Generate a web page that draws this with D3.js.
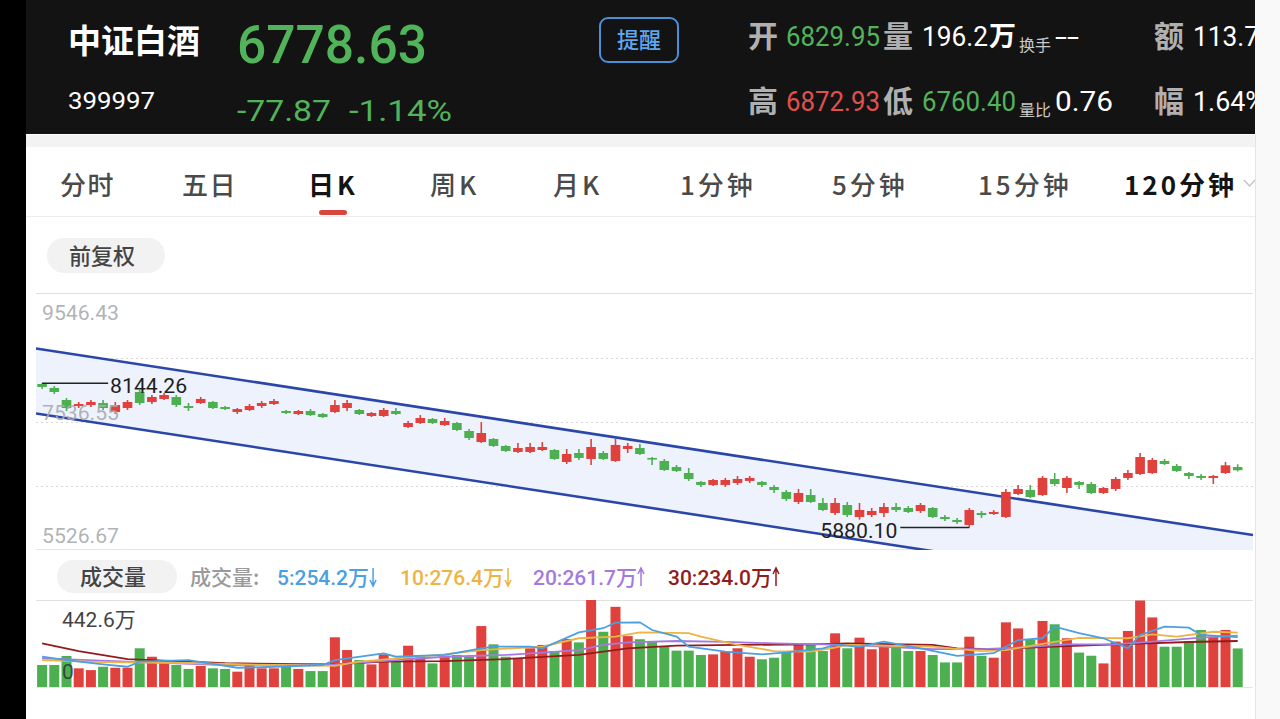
<!DOCTYPE html>
<html>
<head>
<meta charset="utf-8">
<script src="https://d3js.org/d3.v7.min.js"></script>
<style>
body { margin: 0; background: #fff; overflow: hidden; }
text { font-family: Roboto, "Noto Sans CJK SC", sans-serif; }
.cjk { font-family: "Noto Sans CJK SC", sans-serif; }
</style>
</head>
<body>
<div id="svg_goes_here"></div>
<script>
//Daily candles, oldest first
var opens = [8133,8071,7882,7788,7803,7835,7693,7756,8008,7851,7898,7929,7787,7835,7851,7772,7693,7725,7788,7819,
	7709,7662,7709,7662,7693,7756,7725,7631,7631,7709,7458,7521,7584,7489,7521,7395,7222,7270,7160,7066,
	7066,7097,7097,6909,7050,6956,7050,6925,7113,7128,6972,6925,6830,6736,6595,6548,6548,6579,6611,6595,
	6516,6438,6281,6390,6265,6108,6233,6045,6076,6108,6202,6186,6139,6186,6045,5998,5919,6108,6092,6045,
	6406,6469,6390,6642,6500,6595,6563,6422,6485,6658,6720,6736,6925,6846,6736,6689,6658,6736,6829.95];
var highs = [8144.26,8102,7913,7851,7882,7882,7851,7882,8039,7960,7992,7960,7835,7929,7866,7788,7756,7819,7866,7898,
	7725,7725,7740,7678,7882,7882,7740,7693,7756,7756,7552,7646,7599,7599,7536,7427,7536,7285,7176,7207,
	7207,7222,7113,7113,7113,7270,7081,7270,7207,7191,6988,6956,6862,6815,6611,6642,6658,6689,6689,6611,
	6548,6469,6485,6485,6343,6343,6281,6265,6186,6265,6265,6218,6265,6202,6076,6029,6186,6139,6155,6485,
	6548,6548,6689,6736,6689,6611,6595,6516,6673,6783,7050,6972,6956,6877,6752,6720,6705,6909,6872.93];
var lows = [8055,7976,7709,7756,7772,7725,7662,7725,7803,7819,7882,7772,7709,7819,7740,7725,7662,7709,7756,7803,
	7662,7646,7631,7600,7678,7709,7646,7615,7615,7646,7442,7505,7505,7474,7395,7254,7207,7144,7066,7050,
	7050,7081,6940,6877,6940,6862,6940,6909,7050,7019,6862,6768,6752,6611,6516,6532,6516,6548,6579,6516,
	6422,6296,6249,6265,6139,6076,6045,6003,6045,6045,6124,6108,6108,6029,5982,5935,5880.10,6029,6076,6029,
	6390,6343,6375,6532,6422,6485,6406,6406,6453,6626,6705,6720,6862,6752,6642,6626,6563,6720,6760.40];
var closes = [8086,8008,7756,7819,7851,7756,7803,7851,7835,7929,7960,7803,7756,7898,7756,7740,7740,7788,7835,7866,
	7678,7709,7646,7615,7803,7835,7662,7678,7725,7662,7521,7599,7521,7552,7411,7285,7364,7160,7081,7128,
	7144,7144,6956,7034,6972,7144,6956,7176,7160,7034,6956,6783,6768,6642,6548,6626,6626,6642,6658,6548,
	6469,6328,6422,6281,6155,6265,6076,6155,6139,6202,6155,6124,6233,6045,6013,5966,6155,6076,6124,6438,
	6485,6359,6658,6563,6658,6548,6422,6500,6642,6736,6987,6940,6877,6768,6689,6658,6689,6856.50,6778.63];
//Volume in 万
var volumes = [112,112,158,95,86,103,98,98,197,154,132,112,92,107,95,92,78,112,95,95,
	103,92,81,81,253,188,137,115,166,129,210,154,120,159,163,154,310,217,154,146,
	197,214,183,244,227,442.6,281,408,259,243,231,205,185,185,163,166,180,197,154,141,
	149,183,217,214,183,273,197,251,192,205,205,183,183,163,125,125,256,159,149,329,
	298,239,336,319,248,175,159,120,231,285,440,354,205,205,231,290,256,290,196.2];

//Volume moving averages, [candle index, value in 万]
var ma5_points = [[0,154],[2,137],[5,115],[7,103],[8,129],[12,137],[16,98],[19,103],[23,112],[24,137],[28,171],[29,154],
	[33,163],[36,197],[37,205],[40,205],[41,197],[44,278],[46,299],[47,327],[49,329],[50,290],[52,256],[53,205],
	[56,180],[59,166],[61,176],[64,197],[65,214],[67,205],[69,231],[72,197],[75,158],[78,172],[80,239],[82,248],
	[83,307],[85,274],[87,248],[89,197],[90,265],[92,307],[94,302],[95,265],[98,254.2]];
var ma10_points = [[0,137],[5,127],[12,122],[19,112],[24,107],[26,129],[33,166],[36,188],[41,205],[44,248],[47,256],
	[49,278],[53,274],[54,256],[57,214],[60,183],[63,180],[65,200],[66,214],[73,205],[77,183],[79,188],[83,229],
	[85,250],[89,248],[91,268],[93,256],[96,281],[98,276.4]];
var ma20_points = [[0,146],[7,129],[15,112],[24,115],[29,137],[33,154],[38,163],[44,188],[46,214],[48,227],[52,234],
	[56,230],[60,222],[66,214],[73,193],[77,193],[80,200],[84,217],[88,217],[91,231],[95,251],[98,261.7]];
var ma30_points = [[0,222],[3,183],[7,142],[15,121],[24,115],[28,129],[33,132],[38,142],[44,163],[48,197],[52,210],
	[57,214],[63,217],[66,222],[73,214],[75,197],[78,193],[83,205],[88,217],[94,229],[98,234.0]];

//Trend channel drawn on the chart, [candle index] and prices at both ends
var channel_idx = [-0.5, 99.25];
var channel_upper = [8690.7, 5762.2];
var channel_lower = [7670.0, 4736.7];

var price_labels = [9546.43, 7536.55, 5526.67];
var price_grid = [8541.49, 7536.55, 6531.61];
var volume_max = 442.6;

var tab_names = ['分时','五日','日K','周K','月K','1分钟','5分钟','15分钟','120分钟'];
var ma_names = ['5:254.2万','10:276.4万','20:261.7万','30:234.0万'];
var ma_up = [false, false, true, true];

var settings = {
	width: 1280,
	height: 719,
	plot_left: 36,
	plot_right: 1253,
	price_top: 294,
	price_bottom: 550,
	vol_top: 600,
	vol_bottom: 687,
	first_x: 42.1,
	step: 12.2,
	body_width: 9.6,
	red: '#e0413d',
	green: '#4caf50',
	ma_colours: ['#4aa0e2', '#edb445', '#a47ae0', '#921c1c']
}

var svg = d3.select('#svg_goes_here')
	.append('svg')
	.attr('width', settings.width)
	.attr('height', settings.height);

var n = closes.length;
var x = d3.scaleLinear().domain([0, n - 1]).range([settings.first_x, settings.first_x + settings.step * (n - 1)]);
var y = d3.scaleLinear().domain([price_labels[2], price_labels[0]]).range([settings.price_bottom, settings.price_top]);
var yv = d3.scaleLinear().domain([0, volume_max]).range([settings.vol_bottom, settings.vol_top]);

function candle_colour(i){
	return closes[i] >= opens[i] ? settings.red : settings.green;
}

//page background and frame
svg.append('rect').attr('width', 1280).attr('height', 719).attr('fill', '#fff');
svg.append('rect').attr('x', 26).attr('y', 135).attr('width', 1229).attr('height', 12).attr('fill', '#f3f3f3');
svg.append('line').attr('x1', 26).attr('x2', 1255).attr('y1', 216.5).attr('y2', 216.5).attr('stroke', '#ececec');

//header
var head = svg.append('g');
head.append('rect').attr('x', 26).attr('y', 0).attr('width', 1229).attr('height', 134).attr('fill', '#131313');
head.append('text').attr('class', 'cjk').attr('x', 68).attr('y', 53).attr('font-size', 33).attr('font-weight', 700)
	.attr('fill', '#fff').text('中证白酒');
head.append('text').attr('x', 237).attr('y', 63).attr('font-size', 54).attr('font-weight', 500)
	.attr('fill', '#52b45a').attr('textLength', 190).attr('lengthAdjust', 'spacingAndGlyphs').text('6778.63');
head.append('text').attr('x', 68).attr('y', 109).attr('font-size', 24)
	.attr('fill', '#fff').attr('textLength', 87).attr('lengthAdjust', 'spacingAndGlyphs').text('399997');
head.append('text').attr('x', 237).attr('y', 121).attr('font-size', 30)
	.attr('fill', '#52b45a').attr('textLength', 94).attr('lengthAdjust', 'spacingAndGlyphs').text('-77.87');
head.append('text').attr('x', 349).attr('y', 121).attr('font-size', 30)
	.attr('fill', '#52b45a').attr('textLength', 103).attr('lengthAdjust', 'spacingAndGlyphs').text('-1.14%');
head.append('rect').attr('x', 600).attr('y', 18).attr('width', 78).attr('height', 44).attr('rx', 8)
	.attr('fill', 'none').attr('stroke', '#4b8fd6').attr('stroke-width', 2);
head.append('text').attr('class', 'cjk').attr('x', 639).attr('y', 48).attr('text-anchor', 'middle')
	.attr('font-size', 22).attr('font-weight', 500).attr('fill', '#5ea6ef').text('提醒');

//quote fields: label, x, y
function quote_label(t, qx, qy){
	head.append('text').attr('class', 'cjk').attr('x', qx).attr('y', qy).attr('font-size', 30)
		.attr('font-weight', 700).attr('fill', '#b0b0b0').text(t);
}
function quote_value(t, qx, qy, colour, len){
	head.append('text').attr('x', qx).attr('y', qy).attr('font-size', 27).attr('fill', colour)
		.attr('textLength', len).attr('lengthAdjust', 'spacingAndGlyphs').text(t);
}
function quote_small(t, qx, qy){
	head.append('text').attr('class', 'cjk').attr('x', qx).attr('y', qy).attr('font-size', 16)
		.attr('fill', '#c8c8c8').text(t);
}
quote_label('开', 748, 47);
quote_value('6829.95', 786, 46, '#52b45a', 94);
quote_label('量', 883, 47);
quote_value('196.2', 922, 46, '#fff', 66);
head.append('text').attr('class', 'cjk').attr('x', 989).attr('y', 46).attr('font-size', 27)
	.attr('font-weight', 700).attr('fill', '#fff').text('万');
quote_small('换手', 1019, 51);
quote_value('--', 1055, 46, '#fff', 24);
quote_label('额', 1154, 47);
quote_value('113.7', 1193, 46, '#fff', 66);
quote_label('高', 748, 112);
quote_value('6872.93', 786, 111, '#e2504b', 94);
quote_label('低', 883, 112);
quote_value('6760.40', 922, 111, '#52b45a', 94);
quote_small('量比', 1019, 116);
quote_value('0.76', 1055, 111, '#fff', 58);
quote_label('幅', 1154, 112);
quote_value('1.64%', 1193, 111, '#fff', 72);

//period tabs
var tab_x = [60, 182, 308, 430, 553, 680, 832, 978, 1124];
tab_names.forEach(function(t, k){
	var active = (t == '日K' || t == '120分钟');
	svg.append('text').attr('class', 'cjk').attr('x', tab_x[k]).attr('y', 195)
		.attr('font-size', 26).attr('font-weight', active ? 700 : 500)
		.attr('letter-spacing', k < 2 ? 1.5 : 3)
		.attr('fill', active ? '#141414' : '#4a4a4a').text(t);
});
svg.append('rect').attr('x', 319).attr('y', 210).attr('width', 28).attr('height', 5).attr('rx', 2.5).attr('fill', '#d9463f');
svg.append('path').attr('d', 'M1244,180 L1249.5,186 L1255,180').attr('fill', 'none').attr('stroke', '#c4c4c4').attr('stroke-width', 1.5);

//adjustment pill
svg.append('rect').attr('x', 47).attr('y', 238).attr('width', 118).attr('height', 35).attr('rx', 17).attr('fill', '#f2f2f3');
svg.append('text').attr('class', 'cjk').attr('x', 69).attr('y', 264).attr('font-size', 22).attr('font-weight', 500)
	.attr('fill', '#444').text('前复权');

//price panel
var price = svg.append('g');
svg.append('clipPath').attr('id', 'price_clip').append('rect')
	.attr('x', settings.plot_left).attr('y', settings.price_top)
	.attr('width', settings.plot_right - settings.plot_left).attr('height', settings.price_bottom - settings.price_top);

price.append('line').attr('x1', settings.plot_left).attr('x2', settings.plot_right)
	.attr('y1', 293.5).attr('y2', 293.5).attr('stroke', '#dedede');
price.append('line').attr('x1', settings.plot_left).attr('x2', settings.plot_right)
	.attr('y1', 549.5).attr('y2', 549.5).attr('stroke', '#e6e6e6');
price.selectAll('.grid').data(price_grid).enter().append('line')
	.attr('class', 'grid')
	.attr('x1', settings.plot_left).attr('x2', settings.plot_right)
	.attr('y1', function(d){ return Math.round(y(d)) + 0.5; })
	.attr('y2', function(d){ return Math.round(y(d)) + 0.5; })
	.attr('stroke', '#d8d8d8').attr('stroke-dasharray', '2,3');

var channel = channel_idx.map(function(c, k){ return [c, channel_upper[k], channel_lower[k]]; });
var inner = price.append('g').attr('clip-path', 'url(#price_clip)');
inner.append('path').datum(channel)
	.attr('d', d3.area().x(function(d){ return x(d[0]); }).y0(function(d){ return y(d[2]); }).y1(function(d){ return y(d[1]); }))
	.attr('fill', '#edf2fc');
[1, 2].forEach(function(k){
	inner.append('path').datum(channel)
		.attr('d', d3.line().x(function(d){ return x(d[0]); }).y(function(d){ return y(d[k]); }))
		.attr('fill', 'none').attr('stroke', '#2a46a9').attr('stroke-width', 2.6);
});

//candles
var idx = d3.range(n);
inner.selectAll('.wick').data(idx).enter().append('line')
	.attr('class', 'wick')
	.attr('x1', function(i){ return x(i); }).attr('x2', function(i){ return x(i); })
	.attr('y1', function(i){ return y(highs[i]); }).attr('y2', function(i){ return y(lows[i]); })
	.attr('stroke', candle_colour).attr('stroke-width', 1.6);
inner.selectAll('.body').data(idx).enter().append('rect')
	.attr('class', 'body')
	.attr('x', function(i){ return x(i) - settings.body_width / 2; })
	.attr('y', function(i){ return y(Math.max(opens[i], closes[i])); })
	.attr('width', settings.body_width)
	.attr('height', function(i){ return Math.max(1.6, Math.abs(y(opens[i]) - y(closes[i]))); })
	.attr('fill', candle_colour);

//highest and lowest marks
var i_max = d3.maxIndex(highs), i_min = d3.minIndex(lows);
price.append('line').attr('x1', x(i_max)).attr('x2', x(i_max) + 66)
	.attr('y1', y(highs[i_max])).attr('y2', y(highs[i_max])).attr('stroke', '#222').attr('stroke-width', 1.5);
price.append('text').attr('x', x(i_max) + 68).attr('y', y(highs[i_max]) + 10).attr('font-size', 21)
	.attr('fill', '#1e1e1e').attr('textLength', 77).attr('lengthAdjust', 'spacingAndGlyphs').text(d3.format('.2f')(highs[i_max]));
price.append('line').attr('x1', x(i_min) - 69).attr('x2', x(i_min))
	.attr('y1', y(lows[i_min])).attr('y2', y(lows[i_min])).attr('stroke', '#222').attr('stroke-width', 1.5);
price.append('text').attr('x', x(i_min) - 149).attr('y', y(lows[i_min]) + 11).attr('font-size', 21)
	.attr('fill', '#1e1e1e').attr('textLength', 77).attr('lengthAdjust', 'spacingAndGlyphs').text(d3.format('.2f')(lows[i_min]));

//price axis labels inside the plot
var label_dy = [26, -2, -7];
price.selectAll('.plabel').data(price_labels).enter().append('text')
	.attr('class', 'plabel')
	.attr('x', 42).attr('y', function(d, k){ return y(d) + label_dy[k]; })
	.attr('font-size', 20).attr('fill', '#a9acb0').attr('fill-opacity', 0.92)
	.attr('textLength', 77).attr('lengthAdjust', 'spacingAndGlyphs')
	.text(function(d){ return d3.format('.2f')(d); });

//volume legend
svg.append('rect').attr('x', 57).attr('y', 560).attr('width', 120).attr('height', 33).attr('rx', 16).attr('fill', '#f2f2f3');
svg.append('text').attr('class', 'cjk').attr('x', 80).attr('y', 585).attr('font-size', 22).attr('font-weight', 500)
	.attr('fill', '#444').text('成交量');
svg.append('text').attr('class', 'cjk').attr('x', 190).attr('y', 585).attr('font-size', 21).attr('font-weight', 500)
	.attr('fill', '#9a9a9a').text('成交量:');
var legend_x = [277, 400, 533, 668];
ma_names.forEach(function(t, k){
	var node = svg.append('text').attr('x', legend_x[k]).attr('y', 585).attr('font-size', 21).attr('font-weight', 500)
		.attr('fill', settings.ma_colours[k]).text(t).node();
	var ax = legend_x[k] + node.getComputedTextLength() + 4;
	var head_y = ma_up[k] ? 568 : 586;
	var dir = ma_up[k] ? 1 : -1;
	svg.append('path')
		.attr('d', 'M' + ax + ',568 L' + ax + ',586 M' + (ax - 3) + ',' + (head_y + dir * 6) + ' L' + ax + ',' + head_y + ' L' + (ax + 3) + ',' + (head_y + dir * 6))
		.attr('fill', 'none').attr('stroke', settings.ma_colours[k]).attr('stroke-width', 1.5);
});

//volume panel
var vol = svg.append('g');
vol.append('line').attr('x1', settings.plot_left).attr('x2', settings.plot_right)
	.attr('y1', 600.5).attr('y2', 600.5).attr('stroke', '#e0e0e0');
vol.append('line').attr('x1', settings.plot_left).attr('x2', settings.plot_right)
	.attr('y1', 687.5).attr('y2', 687.5).attr('stroke', '#e6e6e6');
vol.selectAll('.vbar').data(idx).enter().append('rect')
	.attr('class', 'vbar')
	.attr('x', function(i){ return x(i) - 5; })
	.attr('y', function(i){ return yv(volumes[i]); })
	.attr('width', 10)
	.attr('height', function(i){ return yv(0) - yv(volumes[i]); })
	.attr('fill', candle_colour);
[ma30_points, ma20_points, ma10_points, ma5_points].forEach(function(pts, k){
	vol.append('path').datum(pts)
		.attr('d', d3.line().x(function(d){ return x(d[0]); }).y(function(d){ return yv(d[1]); }))
		.attr('fill', 'none').attr('stroke', settings.ma_colours[3 - k]).attr('stroke-width', 1.8);
});
vol.append('text').attr('x', 62).attr('y', 627).attr('font-size', 21).attr('fill', '#444').text(volume_max + '万');
vol.append('text').attr('x', 62).attr('y', 679).attr('font-size', 21).attr('fill', '#333').attr('fill-opacity', 0.85).text('0');

//side strips
svg.append('rect').attr('x', 0).attr('y', 0).attr('width', 26).attr('height', 719).attr('fill', '#000');
svg.append('rect').attr('x', 1255).attr('y', 0).attr('width', 25).attr('height', 719).attr('fill', '#f9f9f9');
svg.append('line').attr('x1', 1255.5).attr('x2', 1255.5).attr('y1', 134).attr('y2', 719).attr('stroke', '#e4e4e4');
</script>
</body>
</html>
